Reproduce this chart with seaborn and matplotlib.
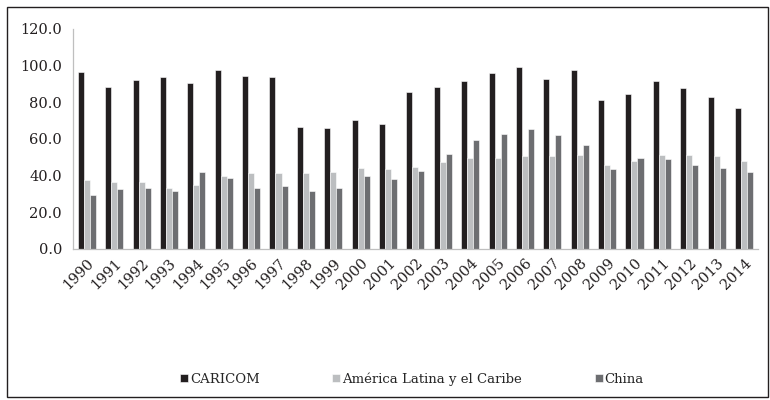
import numpy as np
import pandas as pd
import matplotlib
matplotlib.use("Agg")
import matplotlib.pyplot as plt
import seaborn as sns
from matplotlib.patches import Rectangle
from matplotlib.ticker import FixedLocator, FuncFormatter

years = [str(y) for y in range(1990, 2015)]
series_names = ["CARICOM", "América Latina y el Caribe", "China"]
caricom = [96.8, 88.5, 92.4, 94.0, 90.8, 97.8, 94.6, 93.8, 66.7, 66.0,
           70.6, 68.2, 85.5, 88.5, 91.6, 96.2, 99.4, 93.0, 97.8, 81.5,
           84.7, 91.6, 87.7, 83.1, 76.9]
alc = [37.4, 36.5, 36.5, 33.5, 35.1, 39.7, 41.2, 41.2, 41.2, 42.0,
       44.2, 43.4, 45.0, 47.4, 49.8, 49.8, 50.6, 50.6, 51.3, 45.8,
       48.2, 51.3, 51.3, 50.6, 48.2]
china = [29.5, 32.7, 33.5, 31.9, 42.0, 38.7, 33.5, 34.1, 31.9, 33.5,
         39.7, 38.1, 42.7, 52.0, 59.7, 62.9, 65.2, 62.1, 56.7, 43.4,
         49.8, 49.0, 45.8, 44.2, 42.0]
yticks = [0, 20, 40, 60, 80, 100, 120]

df = pd.DataFrame({
    "year": years * 3,
    "serie": [series_names[0]] * len(years) + [series_names[1]] * len(years) + [series_names[2]] * len(years),
    "value": caricom + alc + china,
})

colors = ["#231f20", "#bcbec0", "#6d6e71"]

sns.set_style("white")
plt.rcParams["font.family"] = ["DejaVu Serif"]

fig = plt.figure(figsize=(7.7, 4.0), dpi=100)
ax = fig.add_axes([0.095, 0.3775, 0.889, 0.55])

sns.barplot(data=df, x="year", y="value", hue="serie", order=years,
            hue_order=series_names, palette=colors, width=0.66, gap=0,
            edgecolor="white", linewidth=0.4, saturation=1, ax=ax, legend=True)

ax.set_ylim(0, 120)
ax.set_xlim(-0.5, len(years) - 0.5)
ax.yaxis.set_major_locator(FixedLocator(yticks))
ax.yaxis.set_major_formatter(FuncFormatter(lambda v, p: f"{v:.1f}"))
ax.set_xlabel("")
ax.set_ylabel("")

for s in ["top", "right"]:
    ax.spines[s].set_visible(False)
for s in ["left", "bottom"]:
    ax.spines[s].set_color("#bfbfbf")
    ax.spines[s].set_linewidth(0.9)

ax.tick_params(axis="y", which="major", direction="out", length=4, color="#bfbfbf",
               labelsize=10.5, labelcolor="#231f20", pad=4)
ax.tick_params(axis="x", which="major", length=0, labelsize=10.5, labelcolor="#231f20", pad=5)
ax.set_xticks(np.arange(len(years)))
ax.set_xticklabels(years, rotation=45, ha="right", rotation_mode="anchor")
ax.set_xticks(np.arange(-0.5, len(years), 1.0), minor=True)
ax.tick_params(axis="x", which="minor", direction="out", length=4, color="#bfbfbf")

handles, labels = ax.get_legend_handles_labels()
ax.get_legend().remove()
fig.legend(handles, labels, loc="center", bbox_to_anchor=(0.535, 0.0525), ncol=3,
           frameon=False, fontsize=9.5, handlelength=0.6, handleheight=0.6,
           handletextpad=0.15, columnspacing=5.5)

fig.patches.append(Rectangle((0.009, 0.008), 0.988, 0.975, transform=fig.transFigure,
                             fill=False, edgecolor="#231f20", linewidth=1.0))

fig.savefig("out.png", dpi=100)
